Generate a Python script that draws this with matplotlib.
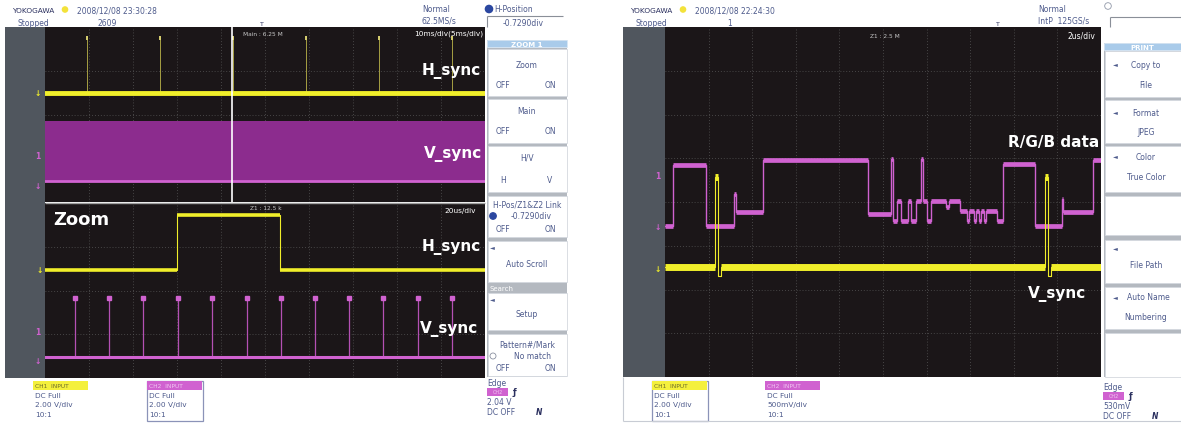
import numpy as np
import matplotlib.pyplot as plt
from matplotlib.patches import Rectangle, Circle

W, H = 1181, 427

# ---------------- data (levels in screen divisions) ----------------
# left scope, main window, 10 ms/div
main_hsync_level = 0.49
main_hsync_spike_top = 1.8
main_hsync_spikes_ms = [9.5, 26.1, 42.7, 59.3, 75.9, 92.5]
main_vsync_low = -1.52
main_vsync_high = -0.15
main_zoom_center_ms = 42.5

# left scope, zoom window, 20 us/div
zoom_hsync_t_us = [0.0, 60.0, 106.8, 200.0]
zoom_hsync_lvl = [0.48, 1.73, 0.48, 0.48]
zoom_vsync_base = -1.52
zoom_vsync_top = -0.18
zoom_vsync_pulses_us = [13.6, 29.1, 44.5, 60.5, 75.9, 91.8, 107.3, 122.7,
                        138.2, 153.6, 169.5, 185.0]

# right scope, 2 us/div
rgb_t_us = [0.00, 0.37, 1.88, 3.17, 3.26, 4.50, 9.31, 10.37, 10.46, 10.64,
            10.83, 11.15, 11.28, 11.51, 11.74, 11.83, 12.02, 12.20, 12.89, 13.03,
            13.53, 13.85, 13.94, 14.17, 14.27, 14.40, 14.50, 14.63, 14.72, 15.23,
            15.51, 16.97, 18.21, 18.26, 19.63, 20.00]
rgb_lvl = [-0.55, 0.85, -0.55, 0.18, -0.23, 0.96, -0.27, 0.98, -0.43, 0.02,
           -0.43, 0.02, -0.43, 0.02, 0.98, 0.02, -0.43, 0.02, -0.11, 0.02,
           -0.21, -0.43, -0.21, -0.43, -0.21, -0.43, -0.21, -0.43, -0.21, -0.43,
           0.87, -0.55, 0.07, -0.23, 0.96, 0.96]
vs_t_us = [0.00, 2.29, 2.43, 2.57, 17.43, 17.57, 17.71, 20.00]
vs_lvl = [-1.49, 0.57, -1.70, -1.49, 0.57, -1.70, -1.49, -1.49]

# ---------------- colours ----------------
BLACK = '#1b1618'
STRIP = '#50565e'
GRID = '#565656'
YEL = '#f0ee2a'
MAG = '#d062d0'
MAG_BAND = '#8c2c8e'
TXT = '#4e5b8c'

fig = plt.figure(figsize=(W / 100, H / 100), dpi=100)
fig.patch.set_facecolor('white')


def px_rect(x0, y0, x1, y1):
    return [x0 / W, 1 - y1 / H, (x1 - x0) / W, (y1 - y0) / H]


def screen(x0, y0, x1, y1, xlim, ylim, nx, ny):
    ax = fig.add_axes(px_rect(x0, y0, x1, y1))
    ax.set_facecolor(BLACK)
    ax.set_xlim(xlim)
    ax.set_ylim(ylim)
    ax.set_xticks([])
    ax.set_yticks([])
    for s in ax.spines.values():
        s.set_visible(False)
    for gx in np.linspace(xlim[0], xlim[1], nx + 1)[1:-1]:
        ax.axvline(gx, color=GRID, lw=0.6, ls=(0, (1, 2.5)), zorder=0)
    for gy in np.linspace(ylim[0], ylim[1], ny + 1)[1:-1]:
        ax.axhline(gy, color=GRID, lw=0.6, ls=(0, (1, 2.5)), zorder=0)
    return ax


def steps(ax, t, v, color, thick, thin=0.8, skip_below=None):
    t = np.asarray(t)
    v = np.asarray(v)
    ax.step(t, v, where='post', color=color, lw=thin)
    keep = np.ones(len(v) - 1, bool) if skip_below is None else v[:-1] >= skip_below
    ax.hlines(v[:-1][keep], t[:-1][keep], t[1:][keep], color=color, lw=thick)


# ---------------- left scope: main ----------------
ax1 = screen(45, 28, 485, 203, (0, 100), (-2, 2), 10, 4)
ax1.fill_between([0, 100], main_vsync_low, main_vsync_high, color=MAG_BAND, lw=0)
ax1.axhline(main_vsync_low, color=MAG, lw=2.0)
ax1.vlines(main_hsync_spikes_ms, main_hsync_level, main_hsync_spike_top,
           color='#bdb64a', lw=0.6)
ax1.vlines(main_hsync_spikes_ms, main_hsync_spike_top - 0.1, main_hsync_spike_top,
           color='#d8d070', lw=1.4)
ax1.axhline(main_hsync_level, color=YEL, lw=3.5)
ax1.axvline(main_zoom_center_ms, color='white', lw=1.2)

# ---------------- left scope: zoom ----------------
ax2 = screen(45, 204, 485, 379, (0, 200), (-2, 2), 10, 4)
steps(ax2, zoom_hsync_t_us, zoom_hsync_lvl, YEL, 2.6)
ax2.vlines(zoom_vsync_pulses_us, zoom_vsync_base, zoom_vsync_top, color='#b450b4', lw=0.9)
ax2.plot(zoom_vsync_pulses_us, [zoom_vsync_top] * len(zoom_vsync_pulses_us), 's',
         color=MAG, ms=2.2)
ax2.axhline(zoom_vsync_base, color=MAG, lw=2.2)

# ---------------- right scope ----------------
ax3 = screen(665, 28, 1101, 378, (0, 20), (-4, 4), 10, 8)
steps(ax3, rgb_t_us, rgb_lvl, MAG, 3.4, thin=1.0)
steps(ax3, vs_t_us, vs_lvl, YEL, 5.0, thin=0.8, skip_below=-1.49)

# ---------------- UI overlay (pixel coordinates) ----------------
ui = fig.add_axes([0, 0, 1, 1], zorder=10)
ui.set_xlim(0, W)
ui.set_ylim(H, 0)
ui.axis('off')


def txt(x, y, s, size=5.5, color=TXT, ha='left', weight='normal', **kw):
    ui.text(x, y, s, fontsize=size, color=color, ha=ha, va='center',
            fontweight=weight, **kw)


def rect(x0, y0, x1, y1, fc, ec='none', lw=0.0):
    ui.add_patch(Rectangle((x0, y0), x1 - x0, y1 - y0, facecolor=fc,
                           edgecolor=ec, lw=lw))


def line(xs, ys, color='#8a8f98', lw=0.8):
    ui.plot(xs, ys, color=color, lw=lw, solid_capstyle='butt')


# grey strips left of screens
rect(5, 28, 45, 379, STRIP)
rect(623, 28, 665, 378, STRIP)
line([45, 485], [203.5, 203.5], '#a0a0a0', 1.0)

# headers
for (x0, date, count, cx, nx, norm2) in [
        (12, '2008/12/08 23:30:28', '2609', 98, 422, '62.5MS/s'),
        (630, '2008/12/08 22:24:30', '1', 727, 1038, 'IntP  125GS/s')]:
    txt(x0, 11, 'YOKOGAWA', 5.3, '#2a2f5e')
    ui.add_patch(Circle((x0 + 53, 10.5), 2.6, color='#f3e23a'))
    txt(x0 + 65, 11, date, 5.5)
    txt(x0 + 6, 23, 'Stopped', 5.5)
    txt(cx, 23, count, 5.5)
    txt(nx, 10, 'Normal', 5.5)
    txt(nx, 21, norm2, 5.5)

txt(260, 24, 'T', 4.5, '#2a2f5e')
txt(996, 24, 'T', 4.5, '#2a2f5e')

# screen annotations
txt(243, 34, 'Main : 6.25 M', 4.2, '#c8c8c8')
txt(483, 34, '10ms/div(5ms/div)', 5.3, 'white', ha='right')
txt(250, 209, 'Z1 : 12.5 k', 4.2, '#c8c8c8')
txt(476, 211, '20us/div', 5.3, 'white', ha='right')
txt(870, 36, 'Z1 : 2.5 M', 4.2, '#c8c8c8')
txt(1095, 36, '2us/div', 5.5, 'white', ha='right')

# big trace labels
txt(481, 71, 'H_sync', 11, 'white', ha='right', weight='bold')
txt(482, 154, 'V_sync', 11, 'white', ha='right', weight='bold')
txt(53, 220, 'Zoom', 13, 'white', weight='bold')
txt(481, 247, 'H_sync', 11, 'white', ha='right', weight='bold')
txt(478, 329, 'V_sync', 11, 'white', ha='right', weight='bold')
txt(1099, 143, 'R/G/B data', 11, 'white', ha='right', weight='bold')
txt(1086, 294, 'V_sync', 11, 'white', ha='right', weight='bold')

# channel markers on the grey strips
for (x, y, s, c) in [(38, 94, '↓', YEL), (38, 157, '1', MAG), (38, 187, '↓', MAG),
                     (40, 271, '↓', YEL), (38, 333, '1', MAG), (38, 362, '↓', MAG),
                     (658, 177, '1', MAG), (658, 228, '↓', MAG), (658, 270, '↓', YEL)]:
    txt(x, y, s, 5.5, c, ha='center', weight='bold')


# side menus
def menu(x0, x1, title, hy, boxes, bottom):
    rect(x0, hy[0], x1, bottom, '#b4b9c0')
    rect(x0, hy[0], x1, hy[1], '#a9cbea', '#d8e8f6', 0.6)
    txt((x0 + x1) / 2, (hy[0] + hy[1]) / 2 + 0.5, title, 5.0, 'white', ha='center',
        weight='bold')
    for (b0, b1) in boxes:
        rect(x0 + 1, b0, x1, b1, 'white', '#d4d8de', 0.6)


menu(487, 567, 'ZOOM 1', (41, 48),
     [(50, 97), (100, 144), (147, 193), (197, 238), (242, 283), (294, 331), (335, 377)],
     378)
rect(487, 285, 567, 293, '#b4b9c0')
txt(489, 289, 'Search', 5.0, 'white')
cx = 527
txt(cx, 65, 'Zoom', ha='center')
txt(503, 85, 'OFF', ha='center')
txt(550, 85, 'ON', ha='center')
txt(cx, 112, 'Main', ha='center')
txt(503, 132, 'OFF', ha='center')
txt(550, 132, 'ON', ha='center')
txt(cx, 158, 'H/V', ha='center')
txt(503, 181, 'H', ha='center')
txt(550, 181, 'V', ha='center')
txt(cx, 205, 'H-Pos/Z1&Z2 Link', ha='center')
ui.add_patch(Circle((493, 217), 3.2, color='#2b47a0'))
txt(531, 217, '-0.7290div', ha='center')
txt(503, 230, 'OFF', ha='center')
txt(550, 230, 'ON', ha='center')
txt(490, 248, '◄', 4.5)
txt(cx, 265, 'Auto Scroll', ha='center')
txt(490, 300, '◄', 4.5)
txt(cx, 315, 'Setup', ha='center')
txt(cx, 345, 'Pattern#/Mark', ha='center')
ui.add_patch(Circle((493, 357), 3.0, facecolor='white', edgecolor='#8a90a0', lw=0.6))
txt(532, 357, 'No match', ha='center')
txt(503, 369, 'OFF', ha='center')
txt(550, 369, 'ON', ha='center')

# H-Position box
ui.add_patch(Circle((489, 10), 3.6, color='#2b47a0'))
txt(494, 10, 'H-Position')
line([487, 563], [17, 17])
line([487, 487], [17, 28])
txt(523, 23, '-0.7290div', ha='center')

menu(1104, 1181, 'PRINT', (44, 51),
     [(52, 98), (101, 144), (147, 193), (197, 236), (241, 284), (288, 330), (334, 378)],
     378)
mx = 1146
txt(1113, 65, '◄', 4.5)
txt(mx, 65, 'Copy to', ha='center')
txt(mx, 86, 'File', ha='center')
txt(1113, 113, '◄', 4.5)
txt(mx, 114, 'Format', ha='center')
txt(mx, 133, 'JPEG', ha='center')
txt(1113, 157, '◄', 4.5)
txt(mx, 158, 'Color', ha='center')
txt(mx, 178, 'True Color', ha='center')
txt(1113, 249, '◄', 4.5)
txt(mx, 266, 'File Path', ha='center')
txt(1113, 298, '◄', 4.5)
txt(1148, 298, 'Auto Name', ha='center')
txt(mx, 318, 'Numbering', ha='center')
ui.add_patch(Circle((1108, 7), 3.3, facecolor='white', edgecolor='#9098a8', lw=0.6))
line([1110, 1181], [18, 18])
line([1110, 1110], [18, 28])

# trigger info bottom right of each scope
for (x0, lvl, y0) in [(487, '2.04 V', 384), (1103, '530mV', 388)]:
    txt(x0, y0, 'Edge')
    rect(x0, y0 + 5, x0 + 21, y0 + 13, MAG)
    txt(x0 + 10.5, y0 + 9, 'CH2', 3.5, '#f0c8f0', ha='center')
    txt(x0 + 26, y0 + 9, 'ƒ', 6, '#2a2f5e', weight='bold')
    txt(x0, y0 + 19, lvl)
    txt(x0, y0 + 29, 'DC OFF')
    txt(x0 + 49, y0 + 29, 'N', 5.5, '#2a2f5e', style='italic', weight='bold')


# channel info blocks
def ch_block(x0, y0, head_fc, head_tc, head, lines_, boxed):
    if boxed:
        ui.add_patch(Rectangle((x0 - 1, y0), 56, 40, facecolor='none',
                               edgecolor='#8b93b8', lw=0.9))
    rect(x0 - 1, y0, x0 + 54, y0 + 8.5, head_fc)
    txt(x0 + 1, y0 + 4.5, head, 4.2, head_tc)
    for i, s in enumerate(lines_):
        txt(x0 + 1, y0 + 14 + i * 9.5, s, 5.3)


ch_block(34, 382, '#f4f03c', '#6b6a2a', 'CH1  INPUT', ['DC Full', '2.00 V/div', '10:1'], False)
ch_block(148, 382, MAG, '#f2c6f2', 'CH2  INPUT', ['DC Full', '2.00 V/div', '10:1'], True)
ch_block(653, 382, '#f4f03c', '#6b6a2a', 'CH1  INPUT', ['DC Full', '2.00 V/div', '10:1'], True)
ch_block(766, 382, MAG, '#f2c6f2', 'CH2  INPUT', ['DC Full', '500mV/div', '10:1'], False)

line([623, 1181], [422, 422], '#c8ccd4', 0.8)
line([623, 623], [378, 422], '#c8ccd4', 0.8)

fig.savefig('out.png', dpi=100, facecolor='white')
